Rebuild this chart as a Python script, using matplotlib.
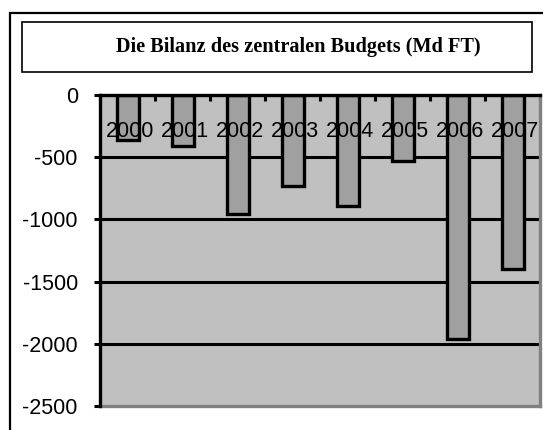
import matplotlib
matplotlib.use("Agg")
import matplotlib.pyplot as plt
from matplotlib.patches import Rectangle
import numpy as np

years = ["2000", "2001", "2002", "2003", "2004", "2005", "2006", "2007"]
balance = [-360, -410, -955, -730, -890, -530, -1960, -1395]
yticks = [0, -500, -1000, -1500, -2000, -2500]
title = "Die Bilanz des zentralen Budgets (Md FT)"

W, H = 543, 430
fig = plt.figure(figsize=(W / 100, H / 100), dpi=100)
fig.patch.set_facecolor("white")

def fx(px):
    return px / W

def fy(py):
    return 1 - py / H

# outer frame (extends beyond the image on right and bottom)
fig.patches.append(Rectangle((fx(9.5), fy(450)), fx(560) - fx(9.5), fy(13) - fy(450),
                             transform=fig.transFigure, fill=False, lw=1.6,
                             edgecolor="black", zorder=0))
# title box
fig.patches.append(Rectangle((fx(22), fy(72)), fx(532) - fx(22), fy(22) - fy(72),
                             transform=fig.transFigure, fill=False, lw=1.2,
                             edgecolor="black", zorder=0))
fig.text(fx(298), fy(47), title, ha="center", va="center",
         fontsize=14.6, fontweight="bold", family="Liberation Serif")

ax = fig.add_axes([fx(100), fy(406), fx(540) - fx(100), fy(95) - fy(406)])
ax.set_facecolor("#C0C0C0")

x = np.arange(len(years))
bw = 0.4
# fill first, then labels, then edges on top
ax.bar(x, balance, width=bw, color="#A0A0A0", edgecolor="none", zorder=2)
for xi, lab in zip(x, years):
    ax.text(xi + 0.05, -290, lab, ha="center", va="center", fontsize=15.5,
            family="Liberation Sans", zorder=3)
ax.bar(x, balance, width=bw, color="none", edgecolor="black", lw=2.4, zorder=4)

ax.set_xlim(-0.5, len(years) - 0.5)
ax.set_ylim(-2500, 0)

# gridlines
for yv in yticks[1:-1]:
    ax.axhline(yv, color="black", lw=2.2, zorder=1)

ax.set_yticks(yticks)
ax.set_yticklabels([str(v) for v in yticks], fontsize=15.5, family="Liberation Sans")
ax.tick_params(axis="y", direction="out", length=4, width=2.2, pad=12)

# category boundary ticks on the top (x axis at 0)
ax.xaxis.tick_top()
ax.set_xticks(np.arange(len(years) + 1) - 0.5)
ax.set_xticklabels([])
ax.tick_params(axis="x", direction="in", length=4, width=2.2, top=True, bottom=False)

for s in ["left", "top"]:
    ax.spines[s].set_color("black")
    ax.spines[s].set_linewidth(2.4)
    ax.spines[s].set_zorder(5)
for s in ["right", "bottom"]:
    ax.spines[s].set_color("#808080")
    ax.spines[s].set_linewidth(2.4)

fig.savefig("out.png", dpi=100)
